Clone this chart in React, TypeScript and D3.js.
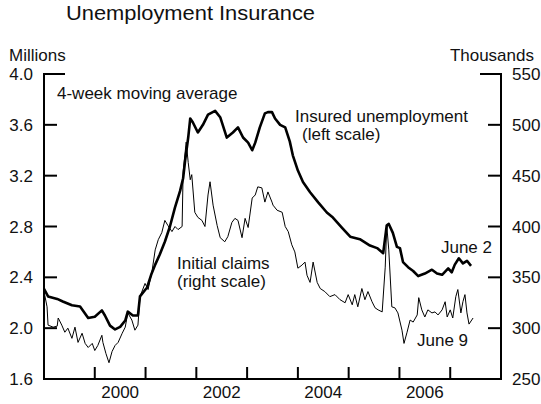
import React from "react";
import * as d3 from "d3";

// Insured unemployment, 4-week moving average (millions, left scale)
const insuredYears = [
  1999.0, 1999.08, 1999.26, 1999.37, 1999.55, 1999.71, 1999.87, 2000.0, 2000.14, 2000.2,
  2000.3, 2000.4, 2000.5, 2000.6, 2000.65, 2000.75, 2000.85, 2000.89, 2001.03, 2001.11,
  2001.19, 2001.28, 2001.38, 2001.48, 2001.58, 2001.68, 2001.74, 2001.78, 2001.84, 2001.88,
  2001.93, 2002.03, 2002.13, 2002.23, 2002.37, 2002.47, 2002.6, 2002.72, 2002.82, 2002.92,
  2003.02, 2003.1, 2003.16, 2003.25, 2003.35, 2003.41, 2003.49, 2003.55, 2003.65, 2003.75,
  2003.84, 2003.9, 2004.0, 2004.1, 2004.24, 2004.4, 2004.57, 2004.69, 2004.87, 2005.03,
  2005.22, 2005.42, 2005.56, 2005.68, 2005.75, 2005.79, 2005.87, 2005.95, 2006.01, 2006.07,
  2006.17, 2006.27, 2006.37, 2006.5, 2006.64, 2006.74, 2006.84, 2006.96, 2007.03, 2007.09,
  2007.17, 2007.25, 2007.33, 2007.41,
];
const insuredValues = [
  2.31, 2.25, 2.23, 2.21, 2.18, 2.17, 2.08, 2.09, 2.14, 2.1,
  2.02, 1.99, 2.01, 2.06, 2.13, 2.1, 2.1, 2.25, 2.32, 2.42,
  2.5, 2.58, 2.68, 2.8, 2.95, 3.08, 3.18, 3.32, 3.5, 3.65,
  3.62, 3.54, 3.6, 3.68, 3.71, 3.66, 3.5, 3.54, 3.58, 3.5,
  3.46, 3.4, 3.46, 3.58, 3.69, 3.7, 3.7, 3.65, 3.6, 3.58,
  3.47, 3.36, 3.24, 3.15, 3.07, 2.99, 2.91, 2.87, 2.79, 2.72,
  2.7, 2.65, 2.63, 2.59, 2.81, 2.82, 2.75, 2.64, 2.63, 2.52,
  2.48, 2.45, 2.41, 2.43, 2.46, 2.43, 2.42, 2.47, 2.44, 2.5,
  2.55, 2.51, 2.53, 2.49,
];

// Initial claims, 4-week moving average (thousands, right scale)
const claimsYears = [
  1999.0, 1999.06, 1999.08, 1999.18, 1999.26, 1999.28, 1999.35, 1999.41, 1999.47, 1999.55,
  1999.61, 1999.67, 1999.75, 1999.81, 1999.87, 1999.95, 2000.0, 2000.06, 2000.14, 2000.16,
  2000.22, 2000.28, 2000.34, 2000.4, 2000.46, 2000.54, 2000.6, 2000.65, 2000.73, 2000.79,
  2000.85, 2000.89, 2000.99, 2001.05, 2001.13, 2001.19, 2001.25, 2001.32, 2001.38, 2001.44,
  2001.52, 2001.58, 2001.64, 2001.72, 2001.74, 2001.8, 2001.84, 2001.88, 2001.91, 2001.97,
  2002.03, 2002.11, 2002.17, 2002.23, 2002.27, 2002.33, 2002.41, 2002.47, 2002.56, 2002.62,
  2002.7, 2002.76, 2002.82, 2002.9, 2002.96, 2003.02, 2003.1, 2003.16, 2003.21, 2003.29,
  2003.35, 2003.41, 2003.49, 2003.51, 2003.59, 2003.69, 2003.75, 2003.81, 2003.88, 2003.94,
  2004.0, 2004.08, 2004.14, 2004.18, 2004.24, 2004.3, 2004.38, 2004.44, 2004.53, 2004.63,
  2004.73, 2004.83, 2004.93, 2004.99, 2005.07, 2005.12, 2005.18, 2005.26, 2005.32, 2005.38,
  2005.46, 2005.52, 2005.58, 2005.66, 2005.72, 2005.75, 2005.79, 2005.85, 2005.91, 2005.97,
  2006.05, 2006.09, 2006.15, 2006.21, 2006.27, 2006.35, 2006.38, 2006.44, 2006.5, 2006.56,
  2006.64, 2006.7, 2006.76, 2006.84, 2006.9, 2006.94, 2007.0, 2007.05, 2007.11, 2007.15,
  2007.21, 2007.25, 2007.29, 2007.33, 2007.37, 2007.45,
];
const claimsValues = [
  336, 321, 303, 301, 302, 310, 303, 296, 300, 290,
  301, 286, 295, 285, 281, 285, 278, 283, 293, 286,
  275, 266, 277, 283, 286, 295, 301, 315, 308, 298,
  303, 331, 344, 338, 357, 377, 387, 394, 406, 401,
  395, 400, 397, 400, 454, 483, 463, 446, 451, 414,
  409, 406, 400, 431, 444, 421, 401, 389, 385, 390,
  404, 408, 406, 389, 408, 399, 428, 431, 439, 438,
  424, 434, 424, 421, 416, 414, 400, 395, 382, 375,
  359, 362, 365, 352, 345, 365, 345, 339, 336, 331,
  333, 328, 325, 333, 323, 333, 321, 339, 328, 336,
  326, 320, 318, 316, 360, 401, 377, 321, 320, 315,
  298, 285, 296, 308, 306, 313, 330, 318, 311, 318,
  315, 316, 313, 318, 326, 311, 318, 310, 331, 338,
  315, 326, 333, 315, 304, 310,
];

const leftTicks = [1.6, 2.0, 2.4, 2.8, 3.2, 3.6, 4.0];
const rightTicks = [250, 300, 350, 400, 450, 500, 550];
const yearTicks = [2000, 2001, 2002, 2003, 2004, 2005, 2006, 2007];
const yearLabels = [2000, 2002, 2004, 2006];

const W = 541;
const H = 404;
const L = 44;
const R = 501;
const T = 74;
const B = 379;
const FONT = "'Liberation Sans', Arial, Helvetica, sans-serif";

export default function App() {
  const x = d3.scaleLinear().domain([1999, 2008]).range([L, R]);
  const yL = d3.scaleLinear().domain([1.6, 4.0]).range([B, T]);
  const yR = d3.scaleLinear().domain([250, 550]).range([B, T]);

  const insured = insuredYears.map((t, i) => [t, insuredValues[i]] as [number, number]);
  const claims = claimsYears.map((t, i) => [t, claimsValues[i]] as [number, number]);

  const lineL = d3
    .line<[number, number]>()
    .x((d) => x(d[0]))
    .y((d) => yL(d[1]));
  const lineR = d3
    .line<[number, number]>()
    .x((d) => x(d[0]))
    .y((d) => yR(d[1]));

  const fs = 17;
  return (
    <svg
      width={W}
      height={H}
      style={{ position: "absolute", left: 0, top: 0, background: "#fff" }}
      fontFamily={FONT}
    >
      <rect x={0} y={0} width={W} height={H} fill="#fff" />
      <text x={66} y={20} fontSize={21} fill="#111" textLength={249} lengthAdjust="spacingAndGlyphs">
        Unemployment Insurance
      </text>
      <text x={9} y={61} fontSize={fs} fill="#111">
        Millions
      </text>
      <text x={534} y={61} fontSize={fs} fill="#111" textAnchor="end">
        Thousands
      </text>

      {/* axes frame */}
      <line x1={L} y1={T - 1} x2={L} y2={B} stroke="#000" strokeWidth={2} />
      <line x1={R} y1={T - 1} x2={R} y2={B} stroke="#000" strokeWidth={2} />
      <line x1={L - 1} y1={B} x2={R + 1} y2={B} stroke="#000" strokeWidth={2} />

      {leftTicks.map((v) => (
        <g key={"l" + v}>
          {v !== 1.6 && (
            <line
              x1={L}
              x2={v === 4.0 ? L + 21 : L + 13}
              y1={yL(v)}
              y2={yL(v)}
              stroke="#000"
              strokeWidth={2}
            />
          )}
          <text x={33} y={yL(v) + 6} fontSize={fs} textAnchor="end" fill="#111">
            {v.toFixed(1)}
          </text>
        </g>
      ))}
      {rightTicks.map((v) => (
        <g key={"r" + v}>
          {v !== 250 && (
            <line
              x1={v === 550 ? R - 21 : R - 13}
              x2={R}
              y1={yR(v)}
              y2={yR(v)}
              stroke="#000"
              strokeWidth={2}
            />
          )}
          <text x={512} y={yR(v) + 6} fontSize={fs} fill="#111">
            {v}
          </text>
        </g>
      ))}
      {yearTicks.map((t) => (
        <line key={"t" + t} x1={x(t)} x2={x(t)} y1={B} y2={B - 12} stroke="#000" strokeWidth={2} />
      ))}
      {yearLabels.map((t) => (
        <text key={"y" + t} x={x(t + 0.5)} y={398} fontSize={fs} textAnchor="middle" fill="#111">
          {t}
        </text>
      ))}

      <path d={lineR(claims) || ""} fill="none" stroke="#000" strokeWidth={1} strokeLinejoin="round" />
      <path d={lineL(insured) || ""} fill="none" stroke="#000" strokeWidth={2.6} strokeLinejoin="round" />

      <text x={57} y={99} fontSize={fs} fill="#111">
        4-week moving average
      </text>
      <text x={295} y={122} fontSize={fs} fill="#111">
        Insured unemployment
      </text>
      <text x={302} y={140} fontSize={fs} fill="#111">
        (left scale)
      </text>
      <text x={177} y={269} fontSize={fs} fill="#111">
        Initial claims
      </text>
      <text x={177} y={287} fontSize={fs} fill="#111">
        (right scale)
      </text>
      <text x={492} y={253} fontSize={fs} fill="#111" textAnchor="end">
        June 2
      </text>
      <text x={417} y={346} fontSize={fs} fill="#111">
        June 9
      </text>
    </svg>
  );
}
